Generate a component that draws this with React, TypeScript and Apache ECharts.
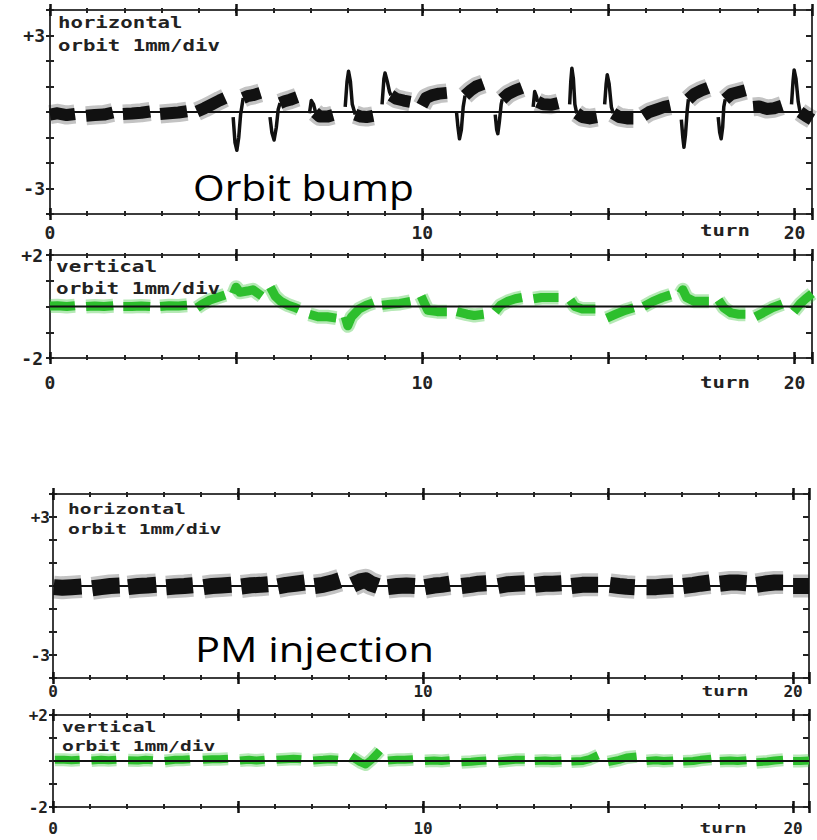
import React, { useEffect, useRef } from "react";
import * as echarts from "echarts";

type Pt = [number, number];

// ---- axis extents / tick labels ----
const bumpTurnMax = 20.47;
const pmTurnMax = 20.43;
const hLimit = 4;
const vLimit = 2;
const xTickValues = [0, 10, 20];
const xTickLabels = ["0", "10", "20"];
const hTickValues = [3, -3];
const hTickLabels = ["+3", "-3"];
const vTickValues = [2, -2];
const vTickLabels = ["+2", "-2"];

// ---- Orbit bump, horizontal orbit (mm) per turn: steady parts ----
const bumpHBands: Pt[][] = [
  [[0.0, -0.1], [0.2, -0.05], [0.45, -0.12], [0.67, -0.08]],
  [[0.97, -0.15], [1.2, -0.12], [1.45, -0.1], [1.69, -0.02]],
  [[1.96, -0.08], [2.2, -0.06], [2.45, -0.03], [2.69, 0.02]],
  [[2.96, -0.08], [3.2, -0.05], [3.45, -0.02], [3.68, 0.03]],
  [[3.95, 0.02], [4.15, 0.15], [4.35, 0.3], [4.55, 0.45], [4.7, 0.55]],
  [[5.19, 0.55], [5.3, 0.62], [5.45, 0.66], [5.65, 0.75]],
  [[6.18, 0.35], [6.3, 0.42], [6.45, 0.48], [6.64, 0.58]],
  [[7.12, -0.02], [7.25, -0.18], [7.45, -0.18], [7.6, -0.12]],
  [[8.2, -0.1], [8.35, -0.18], [8.5, -0.2], [8.68, -0.15]],
  [[9.16, 0.65], [9.3, 0.52], [9.5, 0.45], [9.68, 0.4]],
  [[9.99, 0.25], [10.1, 0.55], [10.25, 0.65], [10.45, 0.72], [10.66, 0.75]],
  [[11.15, 0.65], [11.3, 0.85], [11.45, 1.0], [11.64, 1.1]],
  [[12.15, 0.5], [12.3, 0.7], [12.5, 0.85], [12.68, 0.95]],
  [[13.1, 0.4], [13.25, 0.3], [13.45, 0.28], [13.65, 0.35]],
  [[14.15, -0.05], [14.3, -0.2], [14.5, -0.25], [14.69, -0.2]],
  [[15.13, -0.05], [15.3, -0.2], [15.5, -0.25], [15.67, -0.25]],
  [[15.94, -0.15], [16.1, 0.0], [16.3, 0.1], [16.5, 0.2], [16.66, 0.25]],
  [[17.15, 0.5], [17.3, 0.7], [17.5, 0.85], [17.68, 0.95]],
  [[18.14, 0.5], [18.3, 0.7], [18.5, 0.78], [18.68, 0.85]],
  [[18.89, 0.2], [19.05, 0.22], [19.25, 0.12], [19.45, 0.15], [19.66, 0.25]],
  [[20.15, 0.0], [20.3, -0.15], [20.47, -0.3]],
];

// ---- Orbit bump, horizontal: fast kicks / spikes ----
const bumpHKicks: Pt[][] = [
  [[4.92, -0.2], [4.97, -1.2], [5.02, -1.5], [5.07, -1.0], [5.12, -0.1], [5.19, 0.55]],
  [[5.91, -0.2], [5.96, -0.8], [6.02, -1.1], [6.08, -0.6], [6.13, 0.1], [6.18, 0.35]],
  [[6.97, -0.05], [7.02, 0.45], [7.08, 0.3], [7.14, -0.05]],
  [[7.93, 0.2], [7.98, 1.2], [8.02, 1.6], [8.07, 1.2], [8.12, 0.3], [8.2, -0.1]],
  [[8.92, 0.3], [8.97, 1.3], [9.0, 1.53], [9.06, 1.2], [9.12, 0.8], [9.16, 0.65]],
  [[10.92, 0.0], [10.96, -0.6], [11.0, -1.05], [11.05, -0.7], [11.1, 0.2], [11.15, 0.65]],
  [[11.96, -0.1], [12.0, -0.7], [12.03, -0.85], [12.07, -0.4], [12.12, 0.3], [12.15, 0.5]],
  [[12.98, 0.2], [13.02, 0.8], [13.07, 0.6], [13.1, 0.4]],
  [[13.96, 0.3], [13.99, 1.2], [14.02, 1.72], [14.06, 1.3], [14.1, 0.3], [14.15, -0.05]],
  [[14.9, 0.3], [14.94, 1.1], [14.97, 1.46], [15.02, 1.1], [15.08, 0.2], [15.13, -0.05]],
  [[16.96, -0.3], [17.0, -1.0], [17.03, -1.38], [17.07, -0.9], [17.12, 0.1], [17.15, 0.5]],
  [[17.95, -0.2], [17.99, -0.8], [18.03, -1.05], [18.07, -0.6], [18.1, 0.2], [18.14, 0.5]],
  [[19.92, 0.3], [19.96, 1.2], [19.99, 1.65], [20.04, 1.3], [20.1, 0.4], [20.15, 0.0]],
];

// ---- Orbit bump, vertical orbit (mm) ----
const bumpVBands: Pt[][] = [
  [[0.0, 0.02], [0.2, 0.03], [0.45, 0.0], [0.67, 0.03]],
  [[0.97, 0.0], [1.2, 0.02], [1.45, 0.0], [1.7, 0.03]],
  [[1.97, 0.0], [2.2, 0.0], [2.45, 0.02], [2.69, 0.0]],
  [[2.96, 0.0], [3.2, 0.03], [3.45, 0.02], [3.68, 0.05]],
  [[3.95, -0.05], [4.1, 0.1], [4.3, 0.25], [4.5, 0.35], [4.7, 0.45]],
  [[4.93, 0.5], [5.0, 0.75], [5.1, 0.55], [5.3, 0.6], [5.45, 0.65], [5.69, 0.4]],
  [[5.92, 0.75], [6.05, 0.4], [6.2, 0.2], [6.4, 0.05], [6.6, -0.05], [6.68, -0.1]],
  [[6.97, -0.3], [7.2, -0.4], [7.45, -0.4], [7.69, -0.45]],
  [[7.93, -0.4], [8.0, -0.75], [8.1, -0.4], [8.3, -0.1], [8.5, 0.05], [8.69, 0.15]],
  [[8.92, 0.05], [9.2, 0.1], [9.4, 0.12], [9.68, 0.2]],
  [[9.97, 0.4], [10.05, 0.15], [10.15, -0.15], [10.4, -0.2], [10.66, -0.2]],
  [[10.93, -0.2], [11.2, -0.3], [11.4, -0.35], [11.65, -0.3]],
  [[11.96, -0.2], [12.1, 0.05], [12.3, 0.2], [12.5, 0.3], [12.68, 0.35]],
  [[12.99, 0.3], [13.2, 0.35], [13.45, 0.35], [13.66, 0.35]],
  [[13.98, 0.25], [14.1, 0.0], [14.3, -0.1], [14.5, -0.1], [14.65, -0.1]],
  [[14.96, -0.45], [15.2, -0.3], [15.45, -0.15], [15.68, -0.05]],
  [[15.95, 0.0], [16.2, 0.2], [16.45, 0.35], [16.67, 0.45]],
  [[16.94, 0.5], [17.0, 0.65], [17.1, 0.35], [17.3, 0.2], [17.5, 0.2], [17.7, 0.2]],
  [[17.96, 0.25], [18.1, -0.05], [18.3, -0.25], [18.5, -0.3], [18.68, -0.3]],
  [[18.95, -0.4], [19.15, -0.25], [19.4, -0.05], [19.67, 0.1]],
  [[19.98, -0.2], [20.15, 0.1], [20.3, 0.3], [20.47, 0.5]],
];

// ---- PM injection, horizontal orbit (mm) ----
const pmHBands: Pt[][] = [
  [[0.02, -0.05], [0.25, -0.08], [0.5, -0.05], [0.77, -0.02]],
  [[1.06, -0.1], [1.3, -0.05], [1.55, 0.0], [1.8, 0.02]],
  [[2.03, -0.05], [2.3, 0.0], [2.55, 0.02], [2.79, 0.05]],
  [[3.06, -0.05], [3.3, -0.02], [3.55, 0.0], [3.78, 0.03]],
  [[4.07, -0.05], [4.3, 0.0], [4.55, 0.02], [4.82, 0.05]],
  [[5.09, -0.02], [5.35, 0.03], [5.6, 0.05], [5.81, 0.08]],
  [[6.08, -0.02], [6.3, 0.05], [6.55, 0.1], [6.8, 0.15]],
  [[7.07, 0.0], [7.3, 0.05], [7.55, 0.15], [7.75, 0.25]],
  [[8.1, 0.05], [8.3, 0.2], [8.45, 0.25], [8.6, 0.1], [8.78, 0.0]],
  [[9.05, -0.05], [9.3, 0.0], [9.55, 0.02], [9.78, 0.0]],
  [[10.05, -0.05], [10.3, 0.02], [10.5, 0.05], [10.72, 0.1]],
  [[11.04, 0.0], [11.3, 0.05], [11.5, 0.1], [11.71, 0.12]],
  [[12.03, 0.0], [12.3, 0.08], [12.5, 0.1], [12.75, 0.12]],
  [[13.02, 0.05], [13.3, 0.1], [13.5, 0.1], [13.74, 0.12]],
  [[14.01, 0.0], [14.3, 0.05], [14.5, 0.05], [14.73, 0.05]],
  [[15.05, 0.05], [15.3, 0.0], [15.5, -0.03], [15.72, -0.05]],
  [[16.04, -0.05], [16.3, -0.05], [16.5, -0.02], [16.76, 0.0]],
  [[17.03, 0.0], [17.3, 0.05], [17.5, 0.1], [17.75, 0.15]],
  [[18.02, 0.1], [18.3, 0.15], [18.5, 0.15], [18.74, 0.12]],
  [[19.01, 0.05], [19.3, 0.12], [19.5, 0.15], [19.73, 0.15]],
  [[20.0, 0.0], [20.2, 0.0], [20.43, 0.0]],
];

// ---- PM injection, vertical orbit (mm) ----
const pmVBands: Pt[][] = [
  [[0.05, 0.05], [0.3, 0.05], [0.5, 0.03], [0.72, 0.05]],
  [[1.04, 0.02], [1.3, 0.05], [1.5, 0.03], [1.71, 0.05]],
  [[2.03, 0.03], [2.3, 0.02], [2.5, 0.05], [2.7, 0.03]],
  [[3.02, 0.0], [3.3, 0.05], [3.5, 0.05], [3.7, 0.08]],
  [[4.05, 0.05], [4.3, 0.08], [4.5, 0.08], [4.73, 0.1]],
  [[5.05, 0.02], [5.3, 0.05], [5.5, 0.02], [5.72, 0.05]],
  [[6.04, 0.05], [6.3, 0.08], [6.5, 0.1], [6.71, 0.08]],
  [[7.03, 0.02], [7.3, 0.05], [7.5, 0.08], [7.7, 0.05]],
  [[8.06, 0.2], [8.3, -0.05], [8.45, -0.15], [8.6, 0.05], [8.75, 0.3], [8.83, 0.45]],
  [[9.05, 0.02], [9.3, 0.05], [9.5, 0.05], [9.73, 0.08]],
  [[10.05, 0.0], [10.3, 0.02], [10.5, 0.0], [10.72, 0.03]],
  [[11.04, -0.05], [11.3, -0.03], [11.5, 0.0], [11.71, 0.02]],
  [[12.03, -0.02], [12.3, 0.02], [12.5, 0.05], [12.75, 0.05]],
  [[13.02, 0.0], [13.3, 0.02], [13.5, 0.0], [13.74, 0.02]],
  [[14.01, -0.02], [14.3, 0.0], [14.5, 0.08], [14.73, 0.25]],
  [[15.0, -0.05], [15.3, 0.05], [15.5, 0.15], [15.77, 0.2]],
  [[16.04, 0.0], [16.3, 0.03], [16.5, 0.0], [16.76, 0.02]],
  [[17.03, -0.02], [17.3, 0.0], [17.5, 0.05], [17.79, 0.1]],
  [[18.02, 0.0], [18.3, 0.02], [18.5, 0.0], [18.74, 0.03]],
  [[19.01, -0.05], [19.3, -0.02], [19.5, 0.02], [19.73, 0.05]],
  [[20.0, 0.0], [20.2, 0.0], [20.43, 0.02]],
];

const AXIS = "#3c3c3c";
const MONO = '"DejaVu Sans Mono", monospace';
const BLACK = "#111111";
const GREEN = "#2dbf2d";

function buildOption(): any {
  const panels = [
    { grid: { left: 50, top: 10, width: 762, height: 204 }, xMax: bumpTurnMax, lim: hLimit, tv: hTickValues, tl: hTickLabels, xMargin: 9, yMargin: 5, fs: 18 },
    { grid: { left: 50, top: 255, width: 762, height: 103 }, xMax: bumpTurnMax, lim: vLimit, tv: vTickValues, tl: vTickLabels, xMargin: 15, yMargin: 7, fs: 18 },
    { grid: { left: 53, top: 494, width: 756, height: 184 }, xMax: pmTurnMax, lim: hLimit, tv: hTickValues, tl: hTickLabels, xMargin: 5, yMargin: 3, fs: 16 },
    { grid: { left: 53, top: 715, width: 756, height: 92 }, xMax: pmTurnMax, lim: vLimit, tv: vTickValues, tl: vTickLabels, xMargin: 13, yMargin: 5, fs: 16 },
  ];
  const grid = panels.map((p) => ({ ...p.grid, containLabel: false }));
  const xAxis: any[] = [];
  const yAxis: any[] = [];
  const minorTick = { color: "#222", width: 2 };
  const majorTick = { color: "#111", width: 2.5 };
  panels.forEach((p, g) => {
    const base = { type: "value", gridIndex: g, min: 0, max: p.xMax, splitLine: { show: false } };
    const lbl = {
      show: true, margin: p.xMargin, color: "#222", fontFamily: MONO, fontWeight: "bold", fontSize: p.fs,
      formatter: (v: number) => { const i = xTickValues.indexOf(v); return i >= 0 ? xTickLabels[i] : ""; },
    };
    const mk = (position: string, interval: number, inside: boolean, length: number, line: boolean, label: boolean) => ({
      ...base, position, interval,
      axisLine: { show: line, onZero: false, lineStyle: { color: AXIS, width: 2 } },
      axisTick: { show: true, inside, length, lineStyle: interval === 5 ? majorTick : minorTick },
      axisLabel: label ? lbl : { show: false },
    });
    xAxis.push(
      mk("bottom", 1, true, 3, true, true),
      mk("bottom", 1, false, 2, false, false),
      mk("bottom", 5, true, 6, false, false),
      mk("bottom", 5, false, 6, false, false),
      mk("top", 1, true, 3, true, false),
      mk("top", 1, false, 2, false, false),
      mk("top", 5, true, 6, false, false),
      mk("top", 5, false, 6, false, false),
    );
    const ybase = { type: "value", gridIndex: g, min: -p.lim, max: p.lim, interval: 1, splitLine: { show: false } };
    yAxis.push(
      {
        ...ybase, position: "left",
        axisLine: { show: true, onZero: false, lineStyle: { color: AXIS, width: 2 } },
        axisTick: { show: true, inside: false, length: 4, lineStyle: minorTick },
        axisLabel: {
          show: true, margin: p.yMargin, color: "#222", fontFamily: MONO, fontWeight: "bold", fontSize: p.fs,
          formatter: (v: number) => { const i = p.tv.indexOf(v); return i >= 0 ? p.tl[i] : ""; },
        },
      },
      {
        ...ybase, position: "left",
        axisLine: { show: false, onZero: false },
        axisTick: { show: true, inside: true, length: 4, lineStyle: minorTick },
        axisLabel: { show: false },
      },
      {
        ...ybase, position: "right",
        axisLine: { show: true, onZero: false, lineStyle: { color: AXIS, width: 2 } },
        axisTick: { show: true, inside: true, length: 6, lineStyle: minorTick },
        axisLabel: { show: false },
      },
    );
  });

  const linesSeries = (g: number, segs: Pt[][], color: string, width: number, opacity: number, z: number) => ({
    type: "lines", coordinateSystem: "cartesian2d", xAxisIndex: g * 8, yAxisIndex: g * 3,
    polyline: true, silent: true, z,
    data: segs.map((c) => ({ coords: c })),
    lineStyle: { color, width, opacity, cap: "butt", join: "round" },
  });
  const zeroSeries = (g: number, xMax: number) => ({
    type: "line", xAxisIndex: g * 8, yAxisIndex: g * 3, data: [[0, 0], [xMax, 0]],
    symbol: "none", silent: true, z: 5, lineStyle: { color: BLACK, width: 2 },
  });

  const series: any[] = [
    linesSeries(0, bumpHBands, BLACK, 19, 0.25, 2),
    linesSeries(0, bumpHBands, BLACK, 12, 1, 3),
    linesSeries(0, bumpHKicks, BLACK, 3.5, 1, 3),
    zeroSeries(0, bumpTurnMax),
    linesSeries(1, bumpVBands, GREEN, 14, 0.35, 2),
    linesSeries(1, bumpVBands, GREEN, 9, 1, 3),
    zeroSeries(1, bumpTurnMax),
    linesSeries(2, pmHBands, BLACK, 23, 0.25, 2),
    linesSeries(2, pmHBands, BLACK, 16, 1, 3),
    zeroSeries(2, pmTurnMax),
    linesSeries(3, pmVBands, GREEN, 13, 0.35, 2),
    linesSeries(3, pmVBands, GREEN, 8, 1, 3),
    zeroSeries(3, pmTurnMax),
  ];

  const txt = (x: number, y: number, text: string, font: string, scaleX: number, align = "left", fill = "#222") => ({
    type: "text", x, y, scaleX, z: 10, silent: true,
    style: { text, font, fill, textAlign: align, align, textVerticalAlign: "middle", verticalAlign: "middle" },
  });
  const mono15 = `bold 15px ${MONO}`;
  const mono14 = `bold 14px ${MONO}`;
  const graphic = [
    txt(58, 22.5, "horizontal", mono15, 1.38),
    txt(58, 45.5, "orbit 1mm/div", mono15, 1.38),
    txt(56, 266.5, "vertical", mono15, 1.4),
    txt(56, 288.5, "orbit 1mm/div", mono15, 1.4),
    txt(68, 509, "horizontal", mono14, 1.4),
    txt(68, 529, "orbit 1mm/div", mono14, 1.4),
    txt(62, 727.5, "vertical", mono14, 1.4),
    txt(62, 746, "orbit 1mm/div", mono14, 1.4),
    txt(725, 231, "turn", mono15, 1.38, "center"),
    txt(725, 382.5, "turn", mono15, 1.38, "center"),
    txt(725, 691, "turn", mono14, 1.4, "center"),
    txt(723, 828, "turn", mono14, 1.4, "center"),
    txt(193, 186.5, "Orbit bump", '37px "Open Sans"', 1.1, "left", "#000"),
    txt(195, 648.3, "PM injection", '35px "Open Sans"', 1.19, "left", "#000"),
  ];

  return { animation: false, backgroundColor: "#ffffff", grid, xAxis, yAxis, series, graphic };
}

export default function App() {
  const ref = useRef<HTMLDivElement>(null);
  useEffect(() => {
    if (!ref.current) return;
    const chart = echarts.init(ref.current, undefined, { renderer: "svg" });
    chart.setOption(buildOption());
    return () => chart.dispose();
  }, []);
  return (
    <div
      ref={ref}
      style={{ position: "fixed", left: 0, top: 0, width: 817, height: 840, background: "#fff" }}
    />
  );
}
